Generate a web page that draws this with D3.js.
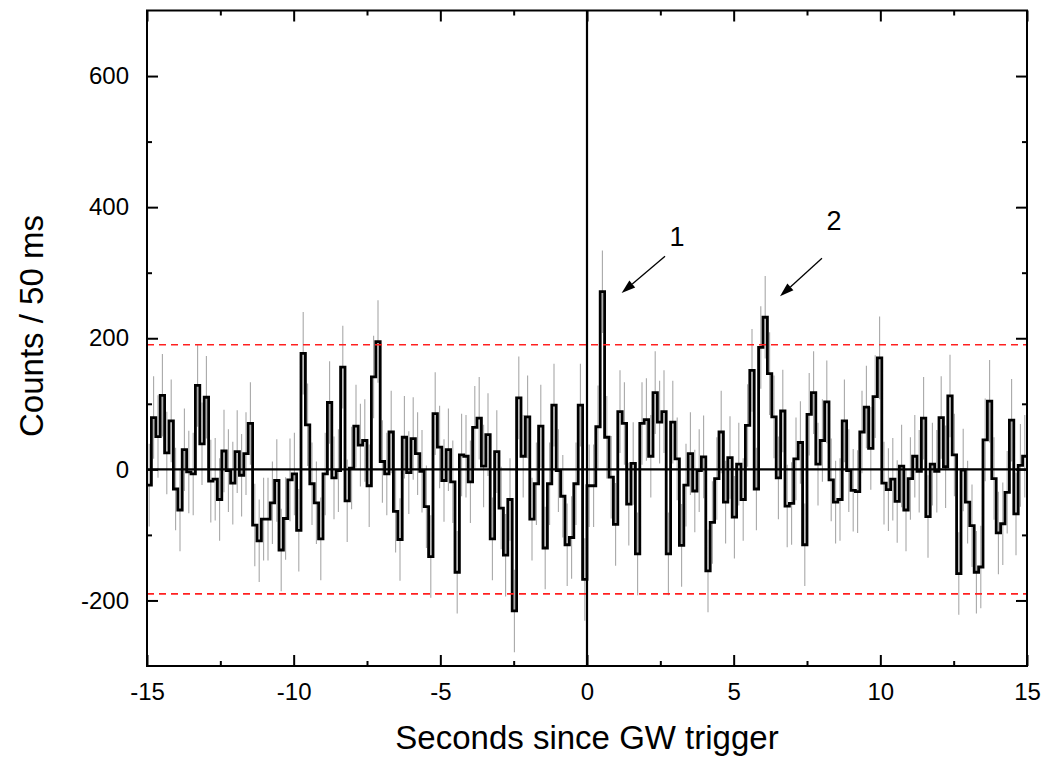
<!DOCTYPE html>
<html>
<head>
<meta charset="utf-8">
<script src="https://cdn.jsdelivr.net/npm/d3@7"></script>
<style>
  html, body { margin: 0; padding: 0; background: #fff; }
  svg { display: block; }
  .tick-label { font-family: "Liberation Sans", Arial, sans-serif; font-size: 24px; fill: #000; }
  .axis-title { font-family: "Liberation Sans", Arial, sans-serif; font-size: 33px; fill: #000; }
</style>
</head>
<body>
<svg id="chart" width="1045" height="759"></svg>
<script>
// bins of 0.15 s from -15 s to +15 s, background-subtracted counts
const tStart = -15;
const binWidth = 0.15;
const counts = [
  -24, 79, 50, 113, 25, 74, -30, -62, 30, -4,
  -7, 128, 39, 110, -18, -15, -46, 28, -2, -21,
  27, -9, 24, 70, -85, -109, -76, -76, -51, -17,
  -123, -75, -16, -7, -93, 177, 68, -22, -51, -106,
  -7, 102, -13, -2, 156, -48, 2, 66, 37, 44,
  -25, 141, 195, 12, -7, 57, -64, -107, 49, -5,
  47, 24, -3, -57, -133, 85, 34, -17, 30, -19,
  -157, 22, 20, -19, 64, 78, 5, 53, -106, 27,
  -59, -131, -46, -216, 109, 20, 80, -76, -22, 66,
  -120, -22, 98, -2, -41, -115, -104, -22, 98, -168,
  -25, -25, 65, 271, 49, -12, -84, 88, 70, -53,
  9, -129, 70, 76, 20, 117, 72, 88, -129, 72,
  16, -116, -24, 24, -33, -2, 19, -155, -81, -14,
  57, -50, 18, -73, 8, -46, 67, 151, -30, 186,
  232, 146, 80, -13, 89, -56, -52, 16, 41, -115,
  84, 117, 8, 44, 103, -16, -50, -46, 74, -2,
  -32, -34, 57, 95, 32, 111, 170, -21, -31, -15,
  -49, 5, -62, -14, 20, -3, 78, -72, 8, -3,
  79, 4, 112, 22, -159, -1, -50, -86, -157, -149,
  45, 104, -14, -97, -83, -35, 75, -68, 6, 20
];
const countError = 63;          // 1-sigma error bar
const threshold = [190, -190];  // red dashed levels

const xMajor = [-15, -10, -5, 0, 5, 10, 15];
const xTickLabels = ['-15', '-10', '-5', '0', '5', '10', '15'];
const xMinor = [-12.5, -7.5, -2.5, 2.5, 7.5, 12.5];
const yMajor = [-200, 0, 200, 400, 600];
const yTickLabels = ['-200', '0', '200', '400', '600'];
const yMinor = [-100, 100, 300, 500];

const peaks = [
  { label: '1', tx: 3.07, ty: 340, from: [2.66, 325], to: [1.18, 269] },
  { label: '2', tx: 8.42, ty: 365, from: [8.01, 322], to: [6.58, 264] }
];

const svg = d3.select('#chart');
const pL = 147, pR = 1027, pT = 10.5, pB = 666;

const x = d3.scaleLinear().domain([-15, 15]).range([pL, pR]);
const y = d3.scaleLinear().domain([-300, 700]).range([pB, pT]);

svg.append('defs').append('clipPath').attr('id', 'plot-clip')
  .append('rect')
  .attr('x', pL).attr('y', pT)
  .attr('width', pR - pL).attr('height', pB - pT);

const plot = svg.append('g').attr('clip-path', 'url(#plot-clip)');

// error bars at bin centres
plot.append('g')
  .selectAll('line')
  .data(counts)
  .enter().append('line')
  .attr('x1', (d, i) => x(tStart + (i + 0.5) * binWidth))
  .attr('x2', (d, i) => x(tStart + (i + 0.5) * binWidth))
  .attr('y1', (d) => y(d - countError))
  .attr('y2', (d) => y(d + countError))
  .attr('stroke', '#a8a8a8')
  .attr('stroke-width', 1.1);

// step histogram
let stepPts = counts.map((d, i) => [tStart + i * binWidth, d]);
stepPts.push([tStart + counts.length * binWidth, counts[counts.length - 1]]);

let step = d3.line()
  .x((d) => x(d[0]))
  .y((d) => y(d[1]))
  .curve(d3.curveStepAfter);

plot.append('path')
  .attr('d', step(stepPts))
  .attr('fill', 'none')
  .attr('stroke', '#000')
  .attr('stroke-width', 2.8)
  .attr('stroke-linejoin', 'miter');

// zero lines
plot.append('line')
  .attr('x1', pL).attr('x2', pR)
  .attr('y1', y(0)).attr('y2', y(0))
  .attr('stroke', '#000').attr('stroke-width', 2.2);
plot.append('line')
  .attr('x1', x(0)).attr('x2', x(0))
  .attr('y1', pT).attr('y2', pB)
  .attr('stroke', '#000').attr('stroke-width', 2.2);

// threshold levels
plot.selectAll('line.thr')
  .data(threshold)
  .enter().append('line')
  .attr('class', 'thr')
  .attr('x1', pL).attr('x2', pR)
  .attr('y1', (d) => y(d)).attr('y2', (d) => y(d))
  .attr('stroke', '#ff2020')
  .attr('stroke-width', 1.6)
  .attr('stroke-dasharray', '7,5');

// axes, ticks pointing inwards on all four sides
function styleAxis(g) {
  g.select('.domain').remove();
  g.selectAll('.tick line').attr('stroke', '#000').attr('stroke-width', 2);
  g.selectAll('.tick text')
    .attr('class', 'tick-label')
    .attr('font-family', null).attr('font-size', null);
  g.attr('font-family', null).attr('font-size', null);
}

svg.append('g').attr('transform', `translate(0,${pB})`)
  .call(d3.axisBottom(x).tickValues(xMajor).tickSize(-11).tickPadding(17)
    .tickFormat((d, i) => xTickLabels[i]))
  .call(styleAxis);
svg.append('g').attr('transform', `translate(0,${pB})`)
  .call(d3.axisBottom(x).tickValues(xMinor).tickSize(-5).tickFormat(''))
  .call(styleAxis);
svg.append('g').attr('transform', `translate(0,${pT})`)
  .call(d3.axisTop(x).tickValues(xMajor).tickSize(-11).tickFormat(''))
  .call(styleAxis);
svg.append('g').attr('transform', `translate(0,${pT})`)
  .call(d3.axisTop(x).tickValues(xMinor).tickSize(-5).tickFormat(''))
  .call(styleAxis);

svg.append('g').attr('transform', `translate(${pL},0)`)
  .call(d3.axisLeft(y).tickValues(yMajor).tickSize(-11).tickPadding(18)
    .tickFormat((d, i) => yTickLabels[i]))
  .call(styleAxis);
svg.append('g').attr('transform', `translate(${pL},0)`)
  .call(d3.axisLeft(y).tickValues(yMinor).tickSize(-5).tickFormat(''))
  .call(styleAxis);
svg.append('g').attr('transform', `translate(${pR},0)`)
  .call(d3.axisRight(y).tickValues(yMajor).tickSize(-11).tickFormat(''))
  .call(styleAxis);
svg.append('g').attr('transform', `translate(${pR},0)`)
  .call(d3.axisRight(y).tickValues(yMinor).tickSize(-5).tickFormat(''))
  .call(styleAxis);

// frame
svg.append('rect')
  .attr('x', pL).attr('y', pT)
  .attr('width', pR - pL).attr('height', pB - pT)
  .attr('fill', 'none')
  .attr('stroke', '#000')
  .attr('stroke-width', 2);

// peak annotations
peaks.forEach((p) => {
  let x0 = x(p.from[0]), y0 = y(p.from[1]);
  let x1 = x(p.to[0]), y1 = y(p.to[1]);
  let ang = Math.atan2(y1 - y0, x1 - x0);
  let headLen = 14, headHalf = 4.5;
  let bx = x1 - headLen * Math.cos(ang), by = y1 - headLen * Math.sin(ang);
  svg.append('line')
    .attr('x1', x0).attr('y1', y0).attr('x2', bx).attr('y2', by)
    .attr('stroke', '#000').attr('stroke-width', 1.3);
  let pts = [
    [x1, y1],
    [bx + headHalf * Math.sin(ang), by - headHalf * Math.cos(ang)],
    [bx - headHalf * Math.sin(ang), by + headHalf * Math.cos(ang)]
  ];
  svg.append('path')
    .attr('d', 'M' + pts.map((q) => q.join(',')).join('L') + 'Z')
    .attr('fill', '#000');
  svg.append('text')
    .attr('class', 'tick-label')
    .attr('x', x(p.tx)).attr('y', y(p.ty))
    .attr('text-anchor', 'middle')
    .style('font-size', '27px')
    .text(p.label);
});

// axis titles
svg.append('text')
  .attr('class', 'axis-title')
  .attr('x', (pL + pR) / 2)
  .attr('y', 749)
  .attr('text-anchor', 'middle')
  .text('Seconds since GW trigger');

svg.append('text')
  .attr('class', 'axis-title')
  .attr('transform', 'translate(43,326) rotate(-90)')
  .attr('text-anchor', 'middle')
  .text('Counts / 50 ms');
</script>
</body>
</html>
